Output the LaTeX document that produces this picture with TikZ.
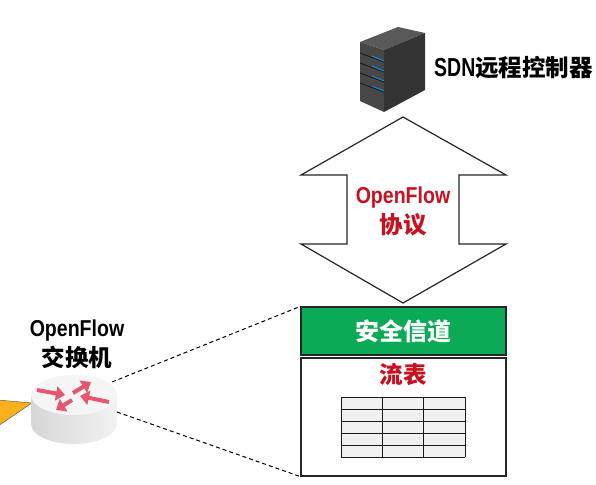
\documentclass[tikz,border=0pt]{standalone}
\usepackage{fontspec}
\newfontfamily\cjk{Noto Sans CJK SC}
\newfontfamily\lat[FakeStretch=0.85]{Liberation Sans}
\newfontfamily\latn[FakeStretch=0.75]{Liberation Sans}
\usetikzlibrary{arrows.meta}
\definecolor{flowred}{HTML}{C8101E}
\definecolor{chgreen}{HTML}{0BAA56}
\definecolor{rpink}{HTML}{E8566E}
\definecolor{wedge}{HTML}{F8B01C}
\newcommand{\ofl}{{\lat\bfseries\fontsize{23}{30}\selectfont OpenFlow}}
\tikzset{
    lbl/.style={font=\cjk\bfseries\fontsize{23.5}{30}\selectfont, align=center, inner sep=0pt, text=black},
    redlbl/.style={lbl, text=flowred},
    boxed/.style={draw=black!85, line width=1.2pt, minimum width=205pt, inner sep=0pt},
    rarrow/.style={draw=rpink, line width=4pt, -{Triangle[length=9pt,width=14pt]}},
    link/.style={draw=black, dash pattern=on 4pt off 3pt, line width=1pt}
}
\begin{document}
\begin{tikzpicture}[x=1pt,y=-1pt]
    \useasboundingbox (0,0) rectangle (596,484);
    % server
    \fill[black!65] (360,42) -- (398,27) -- (425,33) -- (384,50) -- cycle;
    \fill[black!72] (360,42) -- (384,50) -- (384,112) -- (360,101) -- cycle;
    \fill[black!80] (384,50) -- (425,33) -- (425,90) -- (384,112) -- cycle;
    \foreach \y in {0,1,2,3}
    {
        \draw[black!95, line width=0.6pt] (360,53+\y*10) -- (384,62+\y*10);
        \draw[cyan!70!blue, line width=1pt] (372,56+\y*10) -- (384,61+\y*10);
    }
    \node[lbl, anchor=west] (ctrl) at (434,68) {{\latn\bfseries\fontsize{26}{30}\selectfont SDN}远程控制器};
    % double arrow
    \draw[black!85, line width=1.2pt, fill=white] (403,117) -- (506,175) -- (459,175) -- (459,244) -- (506,244)
        -- (403,303) -- (301,244) -- (347,244) -- (347,175) -- (301,175) -- cycle;
    \node[redlbl] (proto) at (403,211) {\ofl\\协议};
    % boxes on the right
    \node[boxed, fill=chgreen, minimum height=48pt] (chan) at (403.5,331)
        {\cjk\bfseries\fontsize{24}{28}\selectfont\textcolor{white}{安全信道}};
    \node[boxed, minimum height=118pt] (tbl) at (403.5,417) {};
    \node[redlbl] (tbltitle) at (403,375) {流表};
    % table
    \fill[black!6] (341,397) rectangle (465,457);
    \foreach \y in {397,409,421,433,445,457}
    {
        \draw[black!90, line width=1pt] (341,\y) -- (465,\y);
    }
    \foreach \x in {341,382,423,465}
    {
        \draw[black!90, line width=1pt] (\x,397) -- (\x,457);
    }
    % wedge
    \draw[black!70, fill=wedge] (-2,400) -- (32,403) -- (-2,426);
    % router
    \path[left color=black!16, right color=black!5] (31,395) -- (31,424) arc[start angle=180, end angle=360, x radius=43, y radius=-20]
        -- (117,395) -- cycle;
    \fill[black!4] (74,395) ellipse[x radius=43, y radius=20];
    \draw[rarrow] (37,390) -- (65,395);
    \draw[rarrow] (73,393) -- (91,382);
    \draw[rarrow] (109,402) -- (80,396);
    \draw[rarrow] (72,400) -- (56,410);
    \coordinate (rtop) at (112,382);
    \coordinate (rbot) at (117,412);
    \node[lbl] (sw) at (77,344) {\ofl\\交换机};
    % links
    \draw[link] (rtop) -- (chan.north west);
    \draw[link] (rbot) -- (tbl.south west);
\end{tikzpicture}
\end{document}
